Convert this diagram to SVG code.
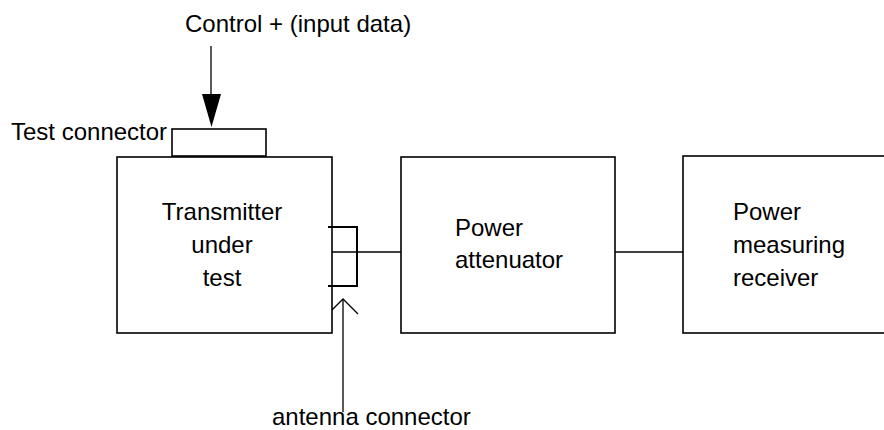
<svg xmlns="http://www.w3.org/2000/svg" width="884" height="430" viewBox="0 0 884 430">
<style>
.box{fill:#fff;stroke:#000;stroke-width:1.6}
.ln{fill:none;stroke:#000;stroke-width:1.3}
.br{fill:none;stroke:#000;stroke-width:2}
text{font-family:"Liberation Sans",Arial,sans-serif;font-size:24px;fill:#000}
</style>
<rect width="884" height="430" fill="#fff"/>
<g id="connectors">
<line class="ln" x1="211" y1="46" x2="211" y2="96"/>
<polygon points="202,94 221,94 211.5,127" fill="#000"/>
<line class="ln" x1="332" y1="252" x2="401" y2="252"/>
<line class="ln" x1="615" y1="252" x2="683" y2="252"/>
<line class="ln" x1="343" y1="300" x2="343" y2="412"/>
<polyline class="ln" points="328,314 343,299 358,314" stroke-width="1.6"/>
</g>
<g id="control-label"><text x="185" y="32">Control + (input data)</text></g>
<g id="test-connector">
<rect class="box" x="172" y="129" width="94" height="27"/>
<text x="11" y="140">Test connector</text>
</g>
<g id="transmitter">
<rect class="box" x="117" y="157" width="215" height="176"/>
<text x="222" y="220" text-anchor="middle">Transmitter</text>
<text x="222" y="253" text-anchor="middle">under</text>
<text x="222" y="286" text-anchor="middle">test</text>
</g>
<g id="antenna-connector">
<polyline class="br" points="328,227 357,227 357,286 328,286"/>
<text x="272" y="425">antenna connector</text>
</g>
<g id="attenuator">
<rect class="box" x="401" y="157" width="214" height="176"/>
<text x="455" y="236">Power</text>
<text x="455" y="268">attenuator</text>
</g>
<g id="receiver">
<rect class="box" x="683" y="156" width="220" height="177"/>
<text x="733" y="220">Power</text>
<text x="733" y="253">measuring</text>
<text x="733" y="286">receiver</text>
</g>
</svg>
